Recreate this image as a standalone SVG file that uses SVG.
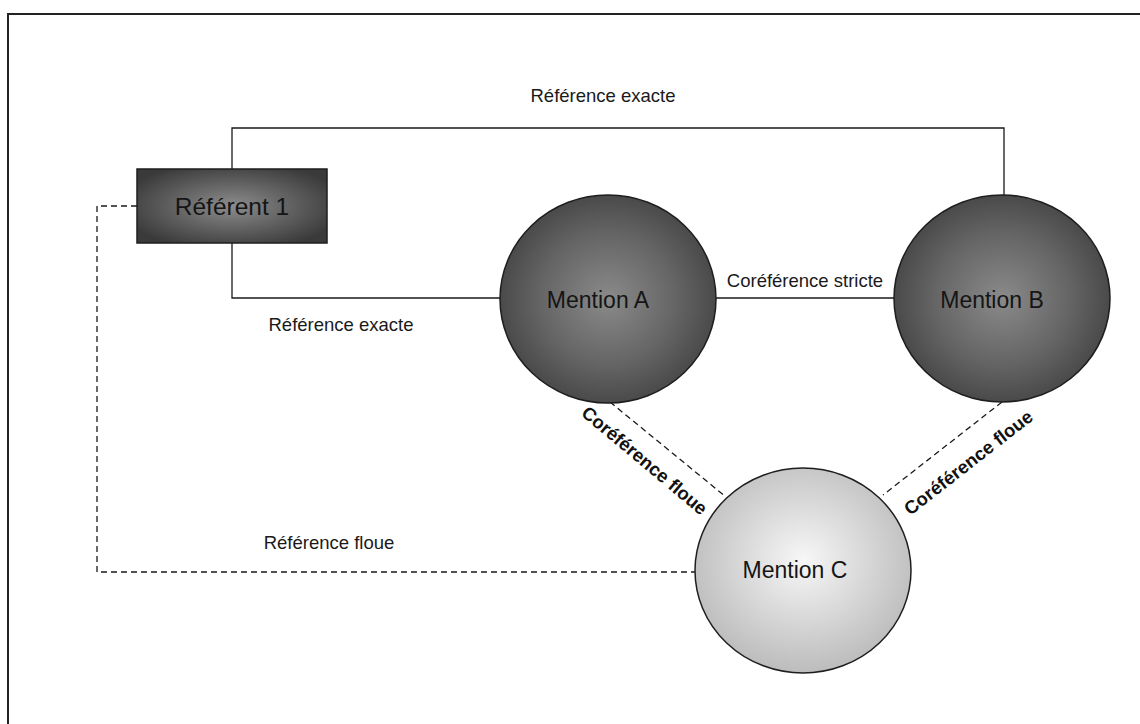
<svg xmlns="http://www.w3.org/2000/svg" width="1140" height="724" viewBox="0 0 1140 724">
<defs>
<radialGradient id="gDark" cx="50%" cy="50%" r="52%">
<stop offset="0" stop-color="#8a8a8a"/>
<stop offset="0.6" stop-color="#656565"/>
<stop offset="1" stop-color="#474747"/>
</radialGradient>
<radialGradient id="gRect" cx="50%" cy="50%" r="60%">
<stop offset="0" stop-color="#8c8c8c"/>
<stop offset="1" stop-color="#3a3a3a"/>
</radialGradient>
<radialGradient id="gLight" cx="50%" cy="45%" r="55%">
<stop offset="0" stop-color="#f7f7f7"/>
<stop offset="1" stop-color="#bcbcbc"/>
</radialGradient>
</defs>
<style>
.frame{fill:none;stroke:#222;stroke-width:2}
.node{stroke:#1e1e1e;stroke-width:1.5}
.ln{fill:none;stroke:#1a1a1a;stroke-width:1.3}
.dash{fill:none;stroke:#1a1a1a;stroke-width:1.3;stroke-dasharray:6 4}
.nt{font-family:"Liberation Sans",Arial,sans-serif;font-size:23px;fill:#151515;text-anchor:middle}
.lb{font-family:"Liberation Sans",Arial,sans-serif;font-size:18.5px;fill:#1a1a1a;text-anchor:middle}
.lbb{font-family:"Liberation Sans",Arial,sans-serif;font-size:18.5px;font-weight:bold;fill:#111;text-anchor:middle}
</style>
<rect width="1140" height="724" fill="#fff"/>
<path class="frame" d="M8,724 V14 H1140"/>
<g id="connectors">
<path class="ln" d="M232,169 V128 H1004 V195"/>
<path class="ln" d="M232,243 V298 H501"/>
<path class="ln" d="M716,298 H894"/>
<path class="dash" d="M137,206 H97 V572 H695"/>
<path class="dash" d="M610,402 L726,497"/>
<path class="dash" d="M1002,402 L883,495"/>
<text class="lb" x="603" y="102">Référence exacte</text>
<text class="lb" x="341" y="331">Référence exacte</text>
<text class="lb" x="805" y="287">Coréférence stricte</text>
<text class="lb" x="329" y="549">Référence floue</text>
<text class="lbb" transform="translate(645,460) rotate(40)" y="7">Coréférence floue</text>
<text class="lbb" transform="translate(968,462) rotate(-38)" y="7">Coréférence floue</text>
</g>
<g id="referent1">
<rect class="node" x="137" y="169" width="190" height="74" fill="url(#gRect)"/>
<text class="nt" x="232" y="215" style="font-size:24.5px">Référent 1</text>
</g>
<g id="mentionA">
<ellipse class="node" cx="608" cy="299" rx="108" ry="104" fill="url(#gDark)"/>
<text class="nt" x="598" y="308">Mention A</text>
</g>
<g id="mentionB">
<ellipse class="node" cx="1002" cy="298.5" rx="108" ry="103.5" fill="url(#gDark)"/>
<text class="nt" x="992" y="308">Mention B</text>
</g>
<g id="mentionC">
<ellipse class="node" cx="803" cy="570.5" rx="108" ry="102.5" fill="url(#gLight)"/>
<text class="nt" x="795" y="578">Mention C</text>
</g>
</svg>
